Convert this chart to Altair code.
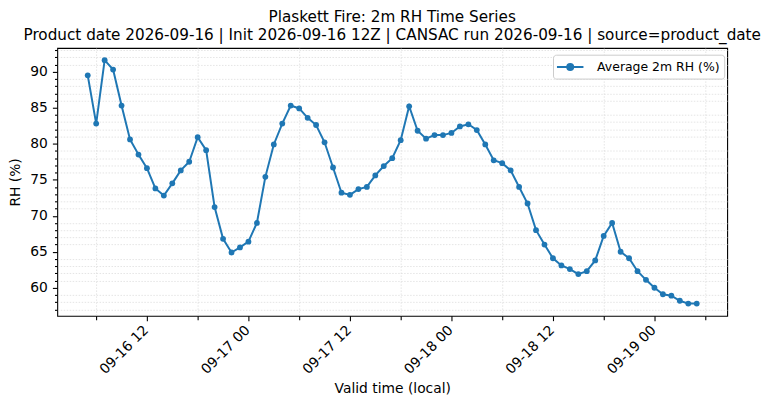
import pandas as pd
import altair as alt

# Average 2m RH (%) hourly, valid time 2026-09-16 05:00 -> 2026-09-19 05:00
start_time = "2026-09-16 05:00"
rh_values = [
    89.5, 82.8, 91.6, 90.3, 85.3, 80.6, 78.5, 76.6, 73.8, 72.8,
    74.5, 76.3, 77.5, 80.9, 79.1, 71.2, 66.8, 64.9, 65.6, 66.4,
    69.0, 75.4, 79.9, 82.8, 85.3, 84.9, 83.6, 82.6, 80.2, 76.7,
    73.2, 72.9, 73.7, 74.0, 75.6, 76.9, 78.0, 80.5, 85.2, 81.8,
    80.7, 81.2, 81.2, 81.5, 82.4, 82.7, 81.9, 79.9, 77.7, 77.3,
    76.3, 74.0, 71.7, 68.0, 66.0, 64.1, 63.1, 62.6, 61.9, 62.3,
    63.8, 67.2, 69.0, 65.0, 64.1, 62.3, 61.1, 60.0, 59.1, 58.9,
    58.2, 57.8, 57.8,
]
series_name = "Average 2m RH (%)"
title_lines = [
    "Plaskett Fire: 2m RH Time Series",
    "Product date 2026-09-16 | Init 2026-09-16 12Z | CANSAC run 2026-09-16 | source=product_date",
]
major_x = ["2026-09-16 12:00", "2026-09-17 00:00", "2026-09-17 12:00",
           "2026-09-18 00:00", "2026-09-18 12:00", "2026-09-19 00:00"]
minor_x = ["2026-09-16 06:00", "2026-09-16 18:00", "2026-09-17 06:00",
           "2026-09-17 18:00", "2026-09-18 06:00", "2026-09-18 18:00",
           "2026-09-19 06:00"]
major_y = [60, 65, 70, 75, 80, 85, 90]

times = pd.date_range(start_time, periods=len(rh_values), freq="h")
df = pd.DataFrame({
    "time": times.strftime("%Y-%m-%dT%H:%M:%SZ"),
    "rh": rh_values,
    "series": series_name,
})


def ms(t):
    return int(pd.Timestamp(t).value // 10**6)


# matplotlib-like 5% margins
t0, t1 = ms(times[0]), ms(times[-1])
xpad = (t1 - t0) * 0.05
ymin, ymax = min(rh_values), max(rh_values)
ypad = (ymax - ymin) * 0.05
x_scale = alt.Scale(type="utc", domain=[t0 - xpad, t1 + xpad], nice=False)
y_scale = alt.Scale(domain=[ymin - ypad, ymax + ypad], nice=False, zero=False)
minor_y = [v for v in range(57, 94) if v % 5 != 0]

FONT = "DejaVu Sans"
BLUE = "#1f77b4"
W, H = 673, 269

x_major_axis = alt.Axis(
    values=[ms(t) for t in major_x], orient="bottom",
    labelExpr="utcFormat(datum.value, '%m-%d %H')",
    labelAngle=315, labelAlign="right", labelBaseline="top",
    labelPadding=2, labelOffset=-6,
    title="Valid time (local)", titleX=W / 2, titleY=73, titleBaseline="middle",
    gridColor="#d3d3d3", gridWidth=0.8, tickSize=4.9,
)
y_major_axis = alt.Axis(
    values=major_y, orient="left", title="RH (%)", titleAngle=270,
    titleX=-41.5, titleY=H / 2,
    titleBaseline="middle", titleAlign="center", labelPadding=5,
    gridColor="#d3d3d3", gridWidth=0.8, tickSize=4.9,
)
x_minor_axis = alt.Axis(
    values=[ms(t) for t in minor_x], labels=False, title=None, orient="bottom",
    gridColor="#d9d9d9", gridDash=[1.5, 1.5], gridWidth=0.7, tickSize=4,
)
y_minor_axis = alt.Axis(
    values=minor_y, labels=False, title=None, orient="left",
    gridColor="#d9d9d9", gridDash=[1.5, 1.5], gridWidth=0.7, tickSize=2.8,
)

line = alt.Chart(df).mark_line(color=BLUE, strokeWidth=2).encode(
    x=alt.X("time:T", scale=x_scale, axis=x_major_axis),
    y=alt.Y("rh:Q", scale=y_scale, axis=y_major_axis),
)

legend = alt.Legend(
    title=None, orient="none", legendX=498, legendY=6.7,
    symbolType="M-2,0H2M-0.45,0A0.45,0.45 0 1,0 0.45,0A0.45,0.45 0 1,0 -0.45,0Z",
    symbolSize=177, symbolStrokeWidth=2, symbolFillColor=BLUE, symbolStrokeColor=BLUE,
    symbolOffset=5, labelOffset=19, labelFont=FONT, labelFontSize=12.5,
    labelColor="black", padding=4.3, fillColor="white", strokeColor="#cccccc",
    cornerRadius=3,
)
points = alt.Chart(df).mark_circle(size=34, opacity=1).encode(
    x=alt.X("time:T", scale=x_scale, axis=None),
    y=alt.Y("rh:Q", scale=y_scale, axis=None),
    color=alt.Color("series:N", scale=alt.Scale(domain=[series_name], range=[BLUE]),
                    legend=legend),
)

minor = alt.Chart(df).mark_point(opacity=0).encode(
    x=alt.X("time:T", scale=x_scale, axis=x_minor_axis),
    y=alt.Y("rh:Q", scale=y_scale, axis=y_minor_axis),
)

chart = alt.layer(minor, line, points).resolve_axis(
    x="independent", y="independent"
).properties(
    width=W, height=H,
    autosize=alt.AutoSizeParams(type="none"),
    padding={"left": 49.5, "top": 39.3, "right": 40, "bottom": 85},
    title=alt.TitleParams(
        text=title_lines, font=FONT, fontSize=15.3, fontWeight="normal",
        color="black", anchor="middle", offset=5, lineHeight=17.4,
    ),
).configure_view(
    stroke="black", strokeWidth=1.1
).configure_axis(
    labelFont=FONT, labelFontSize=13.9, labelColor="black",
    titleFont=FONT, titleFontSize=13.9, titleColor="black", titleFontWeight="normal",
    tickColor="black", tickWidth=1.1, domain=False,
)

chart.save("out.html", embed_options={"renderer": "svg", "actions": False})
